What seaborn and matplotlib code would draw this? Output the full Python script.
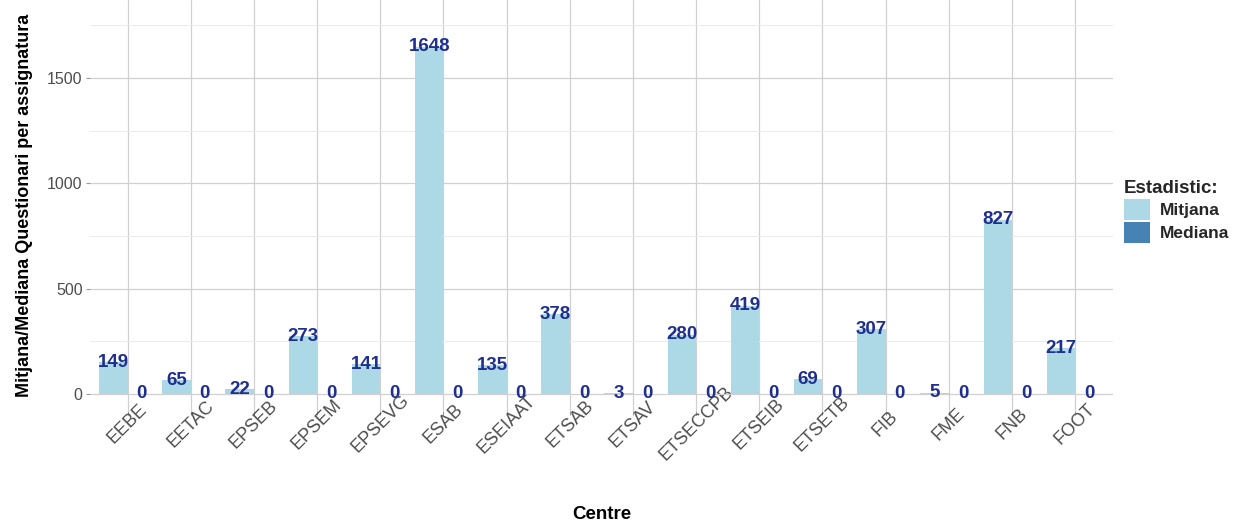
import pandas as pd
import matplotlib.pyplot as plt
import seaborn as sns

# Centres and per-course questionnaire statistics
centres = ['EEBE', 'EETAC', 'EPSEB', 'EPSEM', 'EPSEVG', 'ESAB', 'ESEIAAT', 'ETSAB',
           'ETSAV', 'ETSECCPB', 'ETSEIB', 'ETSETB', 'FIB', 'FME', 'FNB', 'FOOT']
mitjana = [149, 65, 22, 273, 141, 1648, 135, 378, 3, 280, 419, 69, 307, 5, 827, 217]
mediana = [0, 0, 0, 0, 0, 0, 0, 0, 0, 0, 0, 0, 0, 0, 0, 0]
stats_names = ['Mitjana', 'Mediana']
colors = ['#add8e6', '#4682b4']

df = pd.DataFrame({
    'Centre': centres * 2,
    'Estadistic': ['Mitjana'] * len(centres) + ['Mediana'] * len(centres),
    'valor': mitjana + mediana,
})

sns.set_theme(style='whitegrid')
plt.rcParams['font.family'] = ['Liberation Sans', 'DejaVu Sans']

fig = plt.figure(figsize=(12.45, 5.25), dpi=100)
ax = fig.add_axes([0.072, 0.217, 0.822, 0.783])

sns.barplot(data=df, x='Centre', y='valor', hue='Estadistic', hue_order=stats_names,
            palette=colors, width=0.9, saturation=1, linewidth=0, ax=ax)

# value labels centred on the top of every bar
for cont in ax.containers:
    for bar, v in zip(cont, cont.datavalues):
        ax.text(bar.get_x() + bar.get_width() / 2, bar.get_height(), f'{int(v)}',
                ha='center', va='center', color='#1f2f8f', fontsize=13.5,
                fontweight='bold')

ax.set_xlim(-0.6, 15.6)
ax.set_ylim(-82, 1870)
ax.set_yticks([0, 500, 1000, 1500])
ax.set_yticks([250, 750, 1250, 1750], minor=True)
ax.grid(True, which='major', color='#d0d0d0', linewidth=0.9)
ax.grid(True, which='minor', axis='y', color='#ebebeb', linewidth=0.7)
ax.set_axisbelow(True)
for s in ax.spines.values():
    s.set_visible(False)

ax.tick_params(axis='y', colors='#4d4d4d', labelsize=11.5, length=3, width=0.8,
               left=True, color='#999999', pad=2)
ax.tick_params(axis='x', colors='#4d4d4d', labelsize=13, length=3, width=0.8,
               bottom=True, color='#999999', pad=6.4)
plt.setp(ax.get_xticklabels(), rotation=45, ha='center', va='center',
         rotation_mode='anchor')

ax.set_xlabel('Centre', fontsize=13.5, fontweight='bold', color='black')
ax.xaxis.set_label_coords(0.5, -0.232)
ax.set_ylabel('Mitjana/Mediana Questionari per assignatura', fontsize=13,
              fontweight='bold', color='black', labelpad=10)

leg = ax.legend(title='Estadistic:', loc='center left', bbox_to_anchor=(0.995, 0.485),
                frameon=False, prop={'weight': 'bold', 'size': 12.5},
                handlelength=1.5, handleheight=1.5, handletextpad=0.6,
                labelspacing=0.1)
leg.get_title().set_fontweight('bold')
leg.get_title().set_fontsize(13.5)
leg._legend_box.align = 'left'

fig.savefig('out.png', dpi=100)
